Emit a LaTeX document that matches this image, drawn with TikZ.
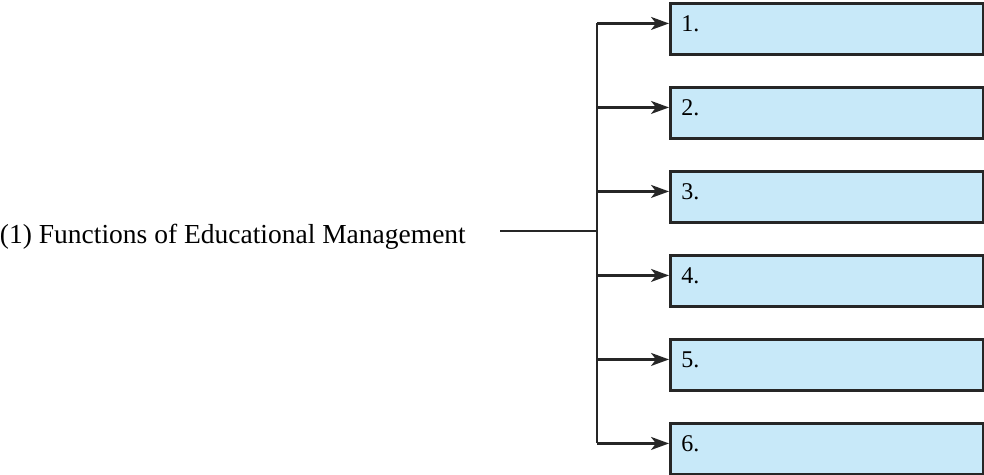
\documentclass[tikz,border=0pt]{standalone}
\usepackage{fontspec}
\setmainfont{Liberation Serif}
\usetikzlibrary{arrows.meta,positioning,calc}
\definecolor{kekdob}{RGB}{200,233,249}
\tikzset{
  dob/.style={draw=black!85,line width=2.6pt,fill=kekdob,anchor=north west,
    minimum width=313pt,minimum height=51pt,inner xsep=11pt,text width=291pt,
    align=left,text height=20pt,text depth=14pt,font=\fontsize{24}{26}\selectfont},
  nyil/.style={line width=2.2pt,draw=black!85,-{Stealth[length=18pt,width=13pt,inset=5pt]}},
  vonal/.style={line width=2.2pt,draw=black!85},
}
\begin{document}
\begin{tikzpicture}[x=1pt,y=1pt]
  \useasboundingbox (0,0) rectangle (984,474);
  % title
  \node[anchor=east,inner sep=0pt,font=\fontsize{27.5}{30}\selectfont] (cim) at (466,237) {(1) Functions of Educational Management};
  \coordinate (kezd) at (500,243);
  \coordinate (ag) at (597,243);
  % boxes
  \foreach \i in {1,...,6}
    \node[dob] (d\i) at (669,{472-84*(\i-1)}) {\i.};
  \foreach \i in {1,...,6}
    \coordinate (c\i) at ($(d\i.north west)!0.4!(d\i.south west)$);
  \draw[vonal] (kezd) -- (ag);
  \draw[vonal] (ag |- c1) -- (ag |- c6);
  \foreach \i in {1,...,6}
    \draw[nyil] (ag |- c\i) -- (c\i);
\end{tikzpicture}
\end{document}
